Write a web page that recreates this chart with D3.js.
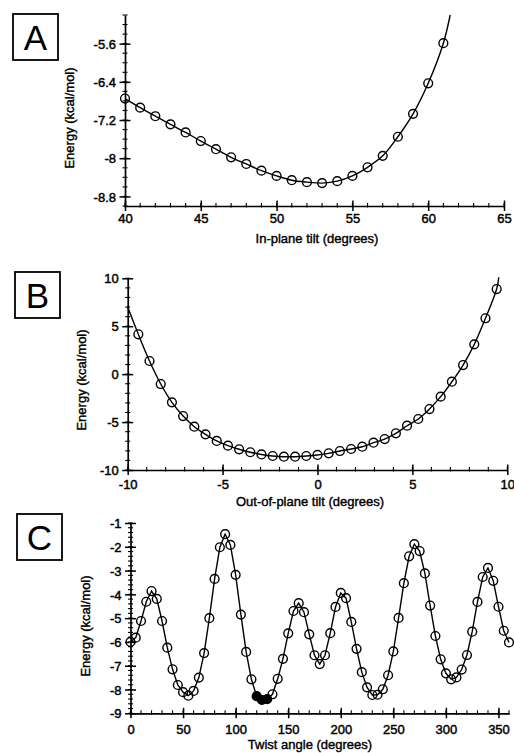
<!DOCTYPE html>
<html>
<head>
<meta charset="utf-8">
<script src="https://cdn.jsdelivr.net/npm/d3@7"></script>
<style>
  body { margin: 0; background: #fff; }
  text { font-family: "Liberation Sans", Arial, Helvetica, sans-serif; fill: #000; }
</style>
</head>
<body>
<svg id="chart" width="514" height="753"></svg>
<script>
// ---- panel A : in-plane tilt ----
const tiltA = [40, 41, 42, 43, 44, 45, 46, 47, 48, 49, 50, 51, 52, 53, 54, 55, 56, 57, 58, 59, 60, 61];
const energyA = [-6.75, -6.94, -7.12, -7.29, -7.46, -7.64, -7.81, -7.98, -8.12, -8.26, -8.37,
  -8.46, -8.50, -8.52, -8.48, -8.37, -8.19, -7.95, -7.55, -7.07, -6.43, -5.59];
const fitEndA = [61.45, -5.0];          // fitted curve runs on to the top of the frame
const xTicksA = [40, 45, 50, 55, 60, 65];
const yTicksA = [-8.8, -8, -7.2, -6.4, -5.6];

// ---- panel B : out-of-plane tilt ----
const tiltB = [-9.44, -8.85, -8.26, -7.67, -7.08, -6.49, -5.9, -5.31, -4.72, -4.13, -3.54,
  -2.95, -2.36, -1.77, -1.18, -0.59, 0, 0.59, 1.18, 1.77, 2.36, 2.95, 3.54, 4.13, 4.72,
  5.31, 5.9, 6.49, 7.08, 7.67, 8.26, 8.85, 9.44];
const energyB = [4.16, 1.37, -1.03, -2.94, -4.37, -5.48, -6.28, -6.97, -7.46, -7.84, -8.15,
  -8.38, -8.54, -8.61, -8.61, -8.54, -8.43, -8.26, -8.02, -7.81, -7.57, -7.15, -6.77, -6.17,
  -5.38, -4.68, -3.64, -2.35, -0.79, 0.95, 3.11, 5.83, 8.88];
const fitStartB = [-10, 7.0];
const fitEndB = [9.55, 10.1];
const xTicksB = [-10, -5, 0, 5, 10];
const yTicksB = [-10, -5, 0, 5, 10];

// ---- panel C : twist angle ----
const angleC = [0, 5, 10, 15, 20, 25, 30, 35, 40, 45, 50, 55, 60, 65, 70, 75, 80, 85, 90, 95,
  100, 105, 110, 115, 120, 125, 130, 135, 140, 145, 150, 155, 160, 165, 170, 175, 180, 185,
  190, 195, 200, 205, 210, 215, 220, 225, 230, 235, 240, 245, 250, 255, 260, 265, 270, 275,
  280, 285, 290, 295, 300, 305, 310, 315, 320, 325, 330, 335, 340, 345, 350, 355, 360];
const energyC = [-6.0, -5.82, -5.12, -4.31, -3.86, -4.19, -5.12, -6.24, -7.15, -7.81, -8.11,
  -8.26, -8.06, -7.5, -6.47, -5.0, -3.35, -2.02, -1.47, -1.92, -3.18, -4.85, -6.42, -7.57,
  -8.28, -8.44, -8.4, -8.2, -7.55, -6.71, -5.64, -4.7, -4.37, -4.75, -5.68, -6.56, -6.93,
  -6.56, -5.63, -4.53, -3.94, -4.16, -5.16, -6.29, -7.27, -7.91, -8.23, -8.22, -7.99, -7.4,
  -6.4, -4.99, -3.53, -2.4, -1.89, -2.18, -3.12, -4.47, -5.75, -6.73, -7.32, -7.57, -7.49,
  -7.16, -6.55, -5.57, -4.32, -3.27, -2.89, -3.43, -4.52, -5.53, -6.02];
const filledC = [120, 125, 130];
const xTicksC = [0, 50, 100, 150, 200, 250, 300, 350];
const yTicksC = [-9, -8, -7, -6, -5, -4, -3, -2, -1];

const svg = d3.select("#chart");

function drawPanel(p) {
  const x = d3.scaleLinear().domain(p.xDomain).range(p.xRange);
  const y = d3.scaleLinear().domain(p.yDomain).range(p.yRange);
  const g = svg.append("g");
  const y0 = p.yRange[0], x0 = p.xRange[0];

  // minor ticks
  g.append("g").selectAll("line").data(p.xMinor).join("line")
    .attr("x1", d => x(d)).attr("x2", d => x(d))
    .attr("y1", y0 - 3).attr("y2", y0 + 1.5)
    .attr("stroke", "#000").attr("stroke-width", 1.1);
  g.append("g").selectAll("line").data(p.yMinor).join("line")
    .attr("y1", d => y(d)).attr("y2", d => y(d))
    .attr("x1", x0 - 2.5).attr("x2", x0 + 2.5)
    .attr("stroke", "#000").attr("stroke-width", 1.1);

  // x axis
  const xa = g.append("g").attr("transform", "translate(0," + y0 + ")")
    .call(d3.axisBottom(x).tickValues(p.xTicks).tickSizeOuter(0).tickFormat(d => String(d)));
  xa.select(".domain").attr("stroke-width", 1.7);
  xa.selectAll(".tick line").attr("y1", -5.5).attr("y2", 5).attr("stroke-width", 1.5);
  xa.selectAll(".tick text").attr("y", p.xLabelY).attr("dy", 0)
    .style("font-size", "13px").style("font-family", "'Liberation Sans', Arial, sans-serif")
    .attr("stroke", "#000").attr("stroke-width", 0.45);

  // y axis
  const ya = g.append("g").attr("transform", "translate(" + x0 + ",0)")
    .call(d3.axisLeft(y).tickValues(p.yTicks).tickSizeOuter(0).tickFormat(d => String(d)));
  ya.select(".domain").attr("stroke-width", 1.7);
  ya.selectAll(".tick line").attr("x1", -5.5).attr("x2", 5.5).attr("stroke-width", 1.5);
  ya.selectAll(".tick text").attr("x", -9).attr("dy", "0.36em")
    .style("font-size", "13px").style("font-family", "'Liberation Sans', Arial, sans-serif")
    .attr("stroke", "#000").attr("stroke-width", 0.45);

  // titles
  g.append("text").attr("x", p.xTitle[0]).attr("y", p.xTitle[1])
    .attr("text-anchor", "middle").style("font-size", "13px")
    .attr("stroke", "#000").attr("stroke-width", 0.4).text(p.xLabel);
  g.append("text").attr("transform", "translate(" + p.yTitle[0] + "," + p.yTitle[1] + ") rotate(-90)")
    .attr("text-anchor", "middle").style("font-size", "13px")
    .attr("stroke", "#000").attr("stroke-width", 0.4).text("Energy (kcal/mol)");

  // panel letter box
  g.append("rect").attr("x", p.box[0]).attr("y", p.box[1]).attr("width", 45).attr("height", 46)
    .attr("fill", "none").attr("stroke", "#000").attr("stroke-width", 1.8);
  g.append("text").attr("x", p.box[0] + 22.5).attr("y", p.box[1] + 36)
    .attr("text-anchor", "middle").style("font-size", "35px").text(p.letter);

  // line
  const line = d3.line().x(d => x(d[0])).y(d => y(d[1])).curve(p.curve);
  g.append("path").datum(p.linePts).attr("d", line)
    .attr("fill", "none").attr("stroke", "#000").attr("stroke-width", 1.4);

  // markers
  g.append("g").selectAll("circle").data(p.pts).join("circle")
    .attr("cx", d => x(d[0])).attr("cy", d => y(d[1])).attr("r", 4.4)
    .attr("fill", d => p.filled.includes(d[0]) ? "#000" : "none")
    .attr("stroke", "#000").attr("stroke-width", 1.4);
}

const ptsA = tiltA.map((t, i) => [t, energyA[i]]);
const ptsB = tiltB.map((t, i) => [t, energyB[i]]);
const ptsC = angleC.map((t, i) => [t, energyC[i]]);

drawPanel({
  letter: "A", box: [13, 14],
  xDomain: [40, 65], xRange: [125, 504], yDomain: [-9, -5], yRange: [206, 15],
  xTicks: xTicksA, yTicks: yTicksA,
  xMinor: d3.range(40, 65.5, 1), yMinor: d3.range(-9, -4.95, 0.2),
  xLabelY: 17, xLabel: "In-plane tilt (degrees)", xTitle: [317, 243], yTitle: [74, 118],
  pts: ptsA, linePts: ptsA.concat([fitEndA]), curve: d3.curveCatmullRom, filled: []
});

drawPanel({
  letter: "B", box: [15, 272],
  xDomain: [-10, 10], xRange: [127.7, 507.3], yDomain: [-10, 10], yRange: [470, 278.3],
  xTicks: xTicksB, yTicks: yTicksB,
  xMinor: d3.range(-10, 10.5, 1), yMinor: d3.range(-10, 10.5, 1),
  xLabelY: 18.5, xLabel: "Out-of-plane tilt (degrees)", xTitle: [310, 505.5], yTitle: [86, 380],
  pts: ptsB, linePts: [fitStartB].concat(ptsB, [fitEndB]), curve: d3.curveCatmullRom, filled: []
});

drawPanel({
  letter: "C", box: [17, 514],
  xDomain: [0, 360], xRange: [130.5, 509], yDomain: [-9, -1], yRange: [713.3, 523],
  xTicks: xTicksC, yTicks: yTicksC,
  xMinor: d3.range(0, 361, 10), yMinor: d3.range(-9, -0.95, 0.2),
  xLabelY: 21, xLabel: "Twist angle (degrees)", xTitle: [310, 749], yTitle: [90, 626],
  pts: ptsC, linePts: ptsC, curve: d3.curveLinear, filled: filledC
});
</script>
</body>
</html>
